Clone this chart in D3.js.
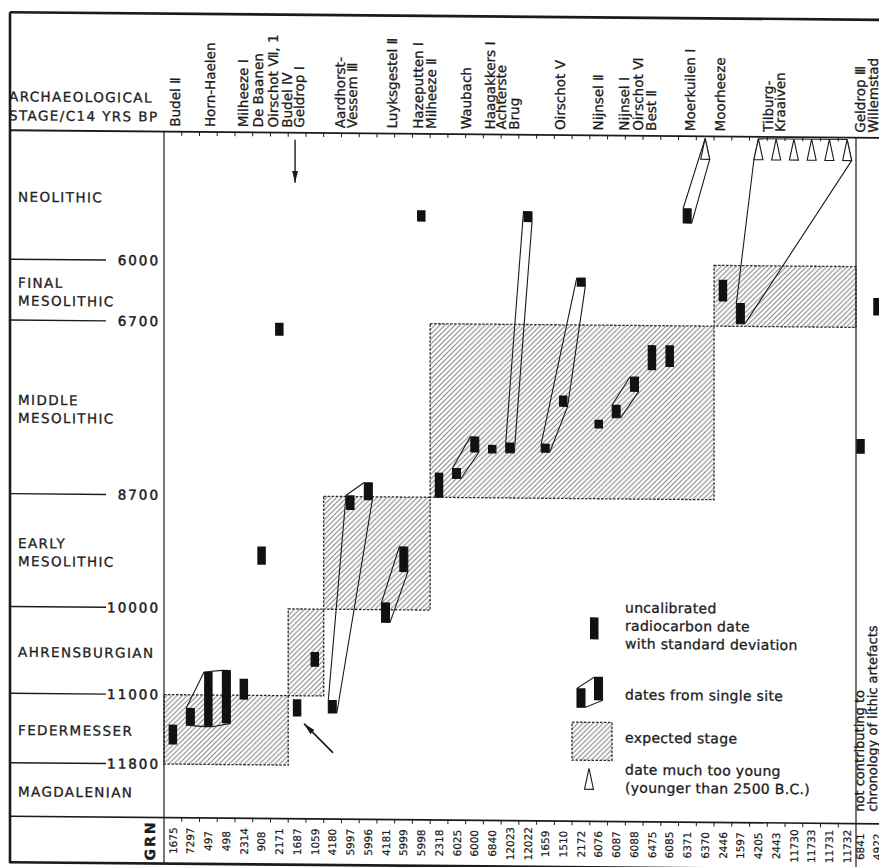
<!DOCTYPE html>
<html>
<head>
<meta charset="utf-8">
<script src="https://cdn.jsdelivr.net/npm/d3@7"></script>
<style>
  body { margin: 0; background: #fff; }
  svg { display: block; font-family: 'DejaVu Sans', sans-serif; fill: #1b1b1b; }
  text { stroke: #1b1b1b; stroke-width: 0.3px; }
</style>
</head>
<body>
<svg id="chart" width="879" height="867"></svg>
<script>
// GrN laboratory numbers of the samples, left to right
const grn = ['1675','7297','497','498','2314','908','2171','1687','1059','4180',
  '5997','5996','4181','5999','5998','2318','6025','6000','6840','12023',
  '12022','1659','1510','2172','6076','6087','6088','6475','6085','6371',
  '6370','2446','1597','4205','2443','11730','11733','11731','11732','6841','4922'];
// samples right of the frame: not contributing to the chronology
const grnOutside = ['6841','4922'];
// uncalibrated C14 date (yrs BP) and standard deviation, null = much too young
const dateBP = [11460, 11250, 11050, 11020, 10930, 9390, 6780, 11140, 10580, 11120,
  8770, 8640, 10030, 9420, 5460, 8560, 8420, 8090, 8140, 8120,
  5460, 8120, 7580, 6210, 7840, 7690, 7380, 7070, 7050, 5430,
  null, 6290, 6550, null, null, null, null, null, null, 8070, 6460];
const dateSD = [115, 100, 315, 305, 120, 105, 75, 100, 85, 75,
  85, 100, 115, 145, 65, 145, 60, 90, 50, 60,
  60, 50, 65, 50, 50, 75, 85, 145, 125, 85,
  null, 125, 120, null, null, null, null, null, null, 85, 100];

// sites ('|' = second line of the label) and the samples taken there
const siteNames = ['Budel Ⅱ', 'Horn-Haelen', 'Milheeze Ⅰ', 'De Baanen', 'Oirschot Ⅶ, 1',
  'Budel Ⅳ', 'Geldrop Ⅰ', 'Aardhorst-|Vessem Ⅲ', 'Luyksgestel Ⅱ', 'Hazeputten Ⅰ',
  'Milheeze Ⅱ', 'Waubach', 'Haagakkers Ⅰ', 'Achterste|Brug', 'Oirschot Ⅴ',
  'Nijnsel Ⅱ', 'Nijnsel Ⅰ', 'Oirschot Ⅵ', 'Best Ⅱ', 'Moerkuilen Ⅰ',
  'Moorheeze', 'Tilburg-|Kraaiven', 'Geldrop Ⅲ', 'Willemstad'];
const siteSamples = [['1675'], ['7297','497','498'], ['2314'], ['908'], ['2171'],
  ['1687'], ['1059'], ['4180','5997','5996'], ['4181','5999'], ['5998'],
  ['2318'], ['6025','6000'], ['6840'], ['12023','12022'], ['1659','1510','2172'],
  ['6076'], ['6087','6088'], ['6475'], ['6085'], ['6371','6370'],
  ['2446'], ['1597','4205','2443','11730','11733','11731','11732'], ['6841'], ['4922']];
// hand placed label nudges, as in the printed figure
const siteLabelShift = [2, 2, -1, -3, -6, -10, -16, -4, -3, -3,
  -8, 0, -2, -11, -3, -1, -1, -14, -19, -6, -3, -20, 0, -4];

// archaeological stages and their C14 limits
const stageNames = ['NEOLITHIC', 'FINAL|MESOLITHIC', 'MIDDLE|MESOLITHIC', 'EARLY|MESOLITHIC',
  'AHRENSBURGIAN', 'FEDERMESSER', 'MAGDALENIAN'];
const stageLimits = [6000, 6700, 8700, 10000, 11000, 11800];

// expected stage boxes: first and last sample column, young and old limit
const expFrom = ['2446', '2318', '4180', '1687', '1675'];
const expTo = ['11732', '6370', '5998', '1059', '2171'];
const expYoung = [6000, 6700, 8700, 10000, 11000];
const expOld = [6700, 8700, 10000, 11000, 11800];

const frameLeft = 10, frameTop = 16, frameRight = 879;
const labelRight = 164, plotRight = 856;
const plotTop = 134, plotBottom = 820, grnBottom = 866;
const barW = 8.5, triW = 9, triH = 21;
const ink = '#1b1b1b';

const svg = d3.select('#chart');
const defs = svg.append('defs');

const hatch = defs.append('pattern')
  .attr('id', 'hatch')
  .attr('patternUnits', 'userSpaceOnUse')
  .attr('width', 5).attr('height', 5);
hatch.append('path')
  .attr('d', 'M-1,1 L1,-1 M0,5 L5,0 M4,6 L6,4')
  .attr('stroke', '#7c7c7c')
  .attr('stroke-width', 0.9);

defs.append('marker')
  .attr('id', 'arrowhead')
  .attr('viewBox', '0 0 12 6')
  .attr('refX', 12).attr('refY', 3)
  .attr('markerWidth', 12).attr('markerHeight', 6)
  .attr('markerUnits', 'userSpaceOnUse')
  .attr('orient', 'auto')
  .append('path')
  .attr('d', 'M0,0 L12,3 L0,6 Z')
  .attr('fill', ink);

// the printed page is slightly skewed: right side sits a little lower
const skew = 0.5;
const root = svg.append('g')
  .attr('transform', `translate(0,${-440 * Math.tan(skew * Math.PI / 180)}) skewY(${skew})`);

// scales
const inside = grn.filter(g => !grnOutside.includes(g));
const x = d3.scaleBand().domain(inside).range([labelRight, plotRight]);
const xOut = d3.scaleBand().domain(grnOutside).range([852, 886]);
const colX = g => inside.includes(g) ? x(g) + x.bandwidth() / 2 : xOut(g) + xOut.bandwidth() / 2;

const y = d3.scaleLinear().domain([4514, 12417]).range([plotTop, plotBottom]);

const samples = grn.map((g, i) => ({ grn: g, bp: dateBP[i], sd: dateSD[i] }));
const sampleMap = new Map(samples.map(d => [d.grn, d]));
const sites = siteNames.map((name, i) => ({ name, samples: siteSamples[i], shift: siteLabelShift[i] }));
const expected = expFrom.map((f, i) => ({ from: f, to: expTo[i], young: expYoung[i], old: expOld[i] }));

// outline points of a sample mark (bar or triangle)
function markPoints(d) {
  const cx = colX(d.grn);
  if (d.bp == null) {
    return [[cx, plotTop + 2], [cx - triW / 2, plotTop + 2 + triH], [cx + triW / 2, plotTop + 2 + triH]];
  }
  const y0 = y(d.bp - d.sd), y1 = y(d.bp + d.sd);
  return [[cx - barW / 2, y0], [cx + barW / 2, y0], [cx + barW / 2, y1], [cx - barW / 2, y1]];
}

// expected stages
root.append('g').selectAll('rect')
  .data(expected)
  .join('rect')
  .attr('x', d => x(d.from))
  .attr('width', d => x(d.to) + x.bandwidth() - x(d.from))
  .attr('y', d => y(d.young))
  .attr('height', d => y(d.old) - y(d.young))
  .attr('fill', 'url(#hatch)')
  .attr('stroke', '#2a2a2a')
  .attr('stroke-width', 1.3)
  .attr('stroke-dasharray', '2.5,1.5');

// dates from a single site
root.append('g').selectAll('path')
  .data(sites.filter(s => s.samples.length > 1 && inside.includes(s.samples[0])))
  .join('path')
  .attr('d', s => {
    const hull = d3.polygonHull(s.samples.flatMap(g => markPoints(sampleMap.get(g))));
    return 'M' + hull.join('L') + 'Z';
  })
  .attr('fill', 'none')
  .attr('stroke', ink)
  .attr('stroke-width', 1.1)
  .attr('stroke-linejoin', 'round');

// radiocarbon dates
root.append('g').selectAll('rect')
  .data(samples.filter(d => d.bp != null))
  .join('rect')
  .attr('x', d => colX(d.grn) - barW / 2)
  .attr('width', barW)
  .attr('y', d => y(d.bp - d.sd))
  .attr('height', d => y(d.bp + d.sd) - y(d.bp - d.sd))
  .attr('fill', '#111');

// dates much too young
root.append('g').selectAll('path')
  .data(samples.filter(d => d.bp == null))
  .join('path')
  .attr('d', d => 'M' + markPoints(d).join('L') + 'Z')
  .attr('fill', '#fff')
  .attr('stroke', ink)
  .attr('stroke-width', 1.1);

// arrows pointing at Budel IV
const budel = sampleMap.get('1687');
const bx = colX(budel.grn), bBottom = y(budel.bp + budel.sd);
root.append('line')
  .attr('x1', bx - 2).attr('y1', plotTop + 7)
  .attr('x2', bx - 2).attr('y2', plotTop + 50)
  .attr('stroke', ink).attr('stroke-width', 1.4)
  .attr('marker-end', 'url(#arrowhead)');
root.append('line')
  .attr('x1', bx + 36).attr('y1', bBottom + 36)
  .attr('x2', bx + 7).attr('y2', bBottom + 7)
  .attr('stroke', ink).attr('stroke-width', 1.6)
  .attr('marker-end', 'url(#arrowhead)');

// frame
const frame = root.append('g').attr('stroke', ink).attr('fill', 'none');
frame.append('line').attr('x1', frameLeft).attr('x2', frameRight).attr('y1', frameTop).attr('y2', frameTop).attr('stroke-width', 2.6);
frame.append('line').attr('x1', frameLeft).attr('x2', frameLeft).attr('y1', frameTop).attr('y2', grnBottom + 1).attr('stroke-width', 2.6);
frame.append('line').attr('x1', frameLeft).attr('x2', frameRight).attr('y1', plotTop).attr('y2', plotTop).attr('stroke-width', 1.8);
frame.append('line').attr('x1', frameLeft).attr('x2', frameRight).attr('y1', plotBottom).attr('y2', plotBottom).attr('stroke-width', 1.6);
frame.append('line').attr('x1', frameLeft).attr('x2', frameRight).attr('y1', grnBottom).attr('y2', grnBottom).attr('stroke-width', 2.6);
frame.append('line').attr('x1', labelRight).attr('x2', labelRight).attr('y1', plotTop).attr('y2', grnBottom).attr('stroke-width', 1.2);
frame.append('line').attr('x1', plotRight).attr('x2', plotRight).attr('y1', plotTop).attr('y2', grnBottom).attr('stroke-width', 1.2);

// small column ticks along the top of the plot and of the GRN row
const bounds = inside.slice(1).map(g => x(g));
frame.selectAll('.tick-top')
  .data(bounds)
  .join('line')
  .attr('x1', d => d).attr('x2', d => d)
  .attr('y1', plotTop).attr('y2', plotTop + 4)
  .attr('stroke-width', 1);
frame.selectAll('.tick-grn')
  .data(bounds)
  .join('line')
  .attr('x1', d => d).attr('x2', d => d)
  .attr('y1', plotBottom).attr('y2', plotBottom + 4)
  .attr('stroke-width', 1);

// left column: stage names and limits
const left = root.append('g').style('font-size', '13.5px').style('letter-spacing', '1.4px');
left.append('text').attr('x', 9).attr('y', 105).text('ARCHAEOLOGICAL');
left.append('text').attr('x', 9).attr('y', 124).text('STAGE/C14 YRS  BP');

left.selectAll('.limit-line')
  .data(stageLimits)
  .join('line')
  .attr('x1', frameLeft).attr('x2', 106)
  .attr('y1', d => y(d)).attr('y2', d => y(d))
  .attr('stroke', ink).attr('stroke-width', 1.4);
left.selectAll('.limit-label')
  .data(stageLimits)
  .join('text')
  .attr('x', 160)
  .attr('y', d => y(d))
  .attr('dy', '0.36em')
  .attr('text-anchor', 'end')
  .style('letter-spacing', '2px')
  .style('stroke-width', '0.5px')
  .text(d => d);

const edges = [y.domain()[0], ...stageLimits, y.domain()[1]];
stageNames.forEach((name, i) => {
  const lines = name.split('|');
  const mid = (y(edges[i]) + y(edges[i + 1])) / 2 + 2;
  lines.forEach((line, j) => {
    left.append('text')
      .attr('x', 18)
      .attr('y', mid + (j - (lines.length - 1) / 2) * 18)
      .attr('dy', '0.36em')
      .text(line);
  });
});

// site names above the columns
const head = root.append('g').style('font-size', '13.5px');
sites.forEach(s => {
  const lines = s.name.split('|');
  const cx = d3.mean(s.samples, colX) + s.shift;
  lines.forEach((line, j) => {
    head.append('text')
      .attr('transform', `translate(${cx + (j - (lines.length - 1) / 2) * 12.5},129) rotate(-90)`)
      .attr('dy', '0.36em')
      .text(line);
  });
});

// GRN numbers
const grnRow = root.append('g').style('font-size', '10.5px');
grnRow.selectAll('text')
  .data(grn)
  .join('text')
  .attr('transform', g => `translate(${colX(g)},${(plotBottom + grnBottom) / 2}) rotate(-90)`)
  .attr('dy', '0.36em')
  .attr('text-anchor', 'middle')
  .style('stroke-width', '0.2px')
  .text(g => g);
grnRow.append('text')
  .attr('transform', `translate(150,${(plotBottom + grnBottom) / 2}) rotate(-90)`)
  .attr('dy', '0.36em')
  .attr('text-anchor', 'middle')
  .style('font-size', '14px')
  .style('font-weight', 'bold')
  .style('letter-spacing', '2px')
  .text('GRN');

// note for the samples outside the frame
const note = root.append('g').style('font-size', '13px');
['not contributing to', 'chronology of lithic artefacts'].forEach((line, j) => {
  note.append('text')
    .attr('transform', `translate(${859 + j * 13},808) rotate(-90)`)
    .attr('dy', '0.36em')
    .text(line);
});

// legend
const lg = root.append('g');
lg.append('rect').attr('x', 590).attr('y', 616).attr('width', barW).attr('height', 22).attr('fill', '#111');

const legendBars = [[577, 687, 706], [594, 676, 699]];
const legendPts = legendBars.flatMap(([lx, t, b]) => [[lx, t], [lx + barW, t], [lx + barW, b], [lx, b]]);
lg.append('path')
  .attr('d', 'M' + d3.polygonHull(legendPts).join('L') + 'Z')
  .attr('fill', '#fff').attr('stroke', ink).attr('stroke-width', 1.1);
lg.selectAll('.lbar')
  .data(legendBars)
  .join('rect')
  .attr('x', d => d[0]).attr('width', barW)
  .attr('y', d => d[1]).attr('height', d => d[2] - d[1])
  .attr('fill', '#111');

lg.append('rect')
  .attr('x', 572).attr('y', 721).attr('width', 40).attr('height', 38)
  .attr('fill', 'url(#hatch)')
  .attr('stroke', '#2a2a2a').attr('stroke-width', 1.3).attr('stroke-dasharray', '2.5,1.5');

lg.append('path')
  .attr('d', `M589,767 L${589 - triW / 2},${767 + triH} L${589 + triW / 2},${767 + triH} Z`)
  .attr('fill', '#fff').attr('stroke', ink).attr('stroke-width', 1.1);

const legendText = [
  ['uncalibrated', 611], ['radiocarbon date', 629], ['with standard deviation', 647],
  ['dates from single site', 698], ['expected stage', 741],
  ['date much too young', 773], ['(younger than 2500 B.C.)', 791]
];
lg.selectAll('text')
  .data(legendText)
  .join('text')
  .attr('x', 625)
  .attr('y', d => d[1])
  .style('font-size', '14px')
  .style('letter-spacing', '0.3px')
  .text(d => d[0]);
</script>
</body>
</html>
